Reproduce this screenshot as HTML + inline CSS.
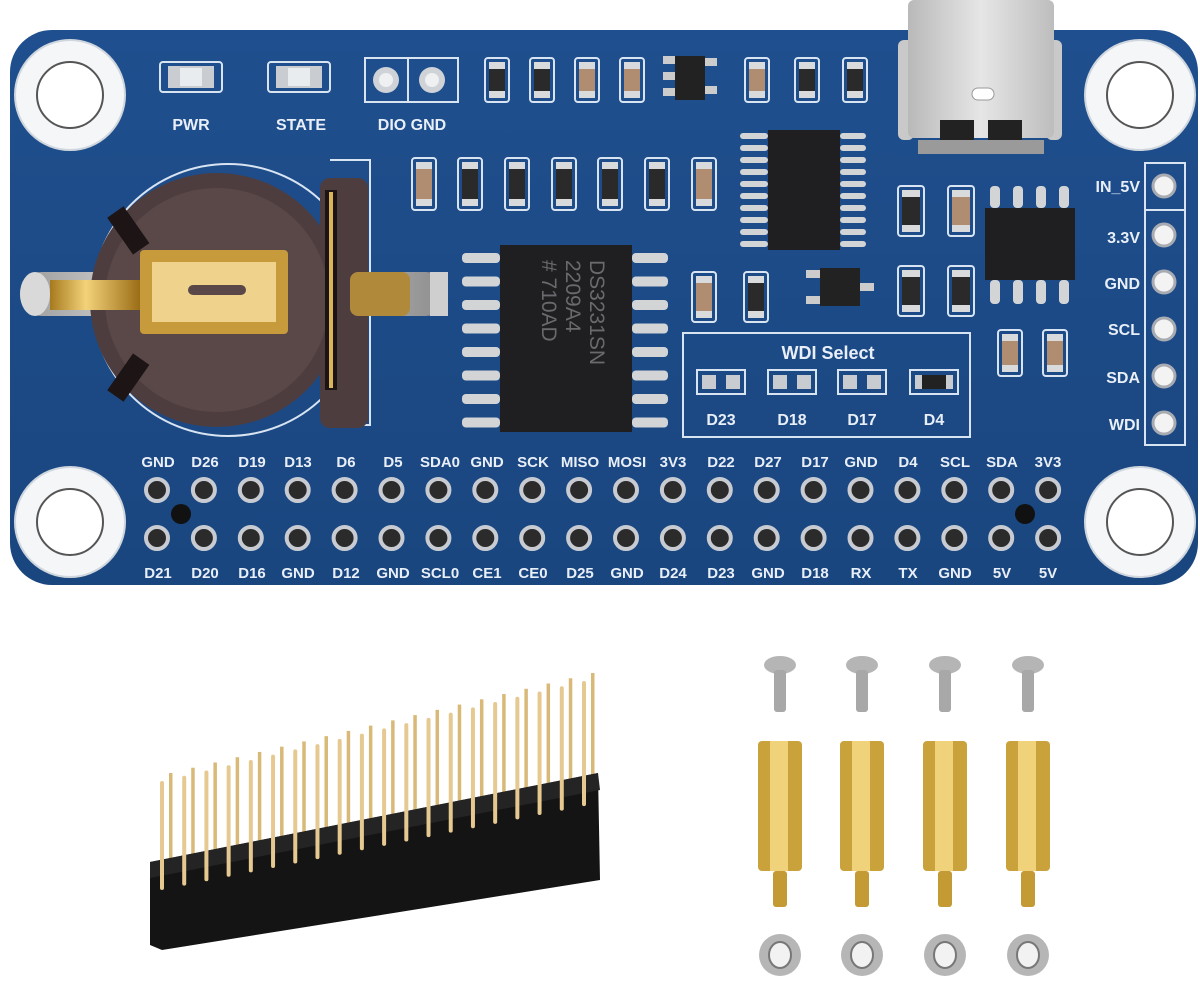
<!DOCTYPE html>
<html><head><meta charset="utf-8"><style>
html,body{margin:0;padding:0;background:#fff;}
svg{display:block;}
text{font-family:"Liberation Sans",sans-serif;font-weight:bold;fill:#e9eff8;}
</style></head><body>
<svg id="s" width="1200" height="985" viewBox="0 0 1200 985" xmlns="http://www.w3.org/2000/svg">
<defs>
<linearGradient id="brd" x1="0" y1="0" x2="0" y2="1"><stop offset="0" stop-color="#1f4f8e"/><stop offset="1" stop-color="#1a467f"/></linearGradient>
<linearGradient id="gold" x1="0" y1="0" x2="1" y2="0"><stop offset="0" stop-color="#a67a1e"/><stop offset="0.4" stop-color="#f3d27a"/><stop offset="1" stop-color="#9a6d16"/></linearGradient>
<linearGradient id="silver" x1="0" y1="0" x2="1" y2="0"><stop offset="0" stop-color="#9a9a9a"/><stop offset="0.4" stop-color="#eeeeee"/><stop offset="1" stop-color="#8c8c8c"/></linearGradient>
<linearGradient id="usb" x1="0" y1="0" x2="1" y2="0"><stop offset="0" stop-color="#b9b9b9"/><stop offset="0.5" stop-color="#e6e6e6"/><stop offset="1" stop-color="#bdbdbd"/></linearGradient>
</defs>
<rect x="10" y="30" width="1188" height="555" rx="42" fill="url(#brd)"/>
<g fill="#f4f6f8" stroke="#cfd6de" stroke-width="2">
<circle cx="70" cy="95" r="55"/><circle cx="1140" cy="95" r="55"/><circle cx="70" cy="522" r="55"/><circle cx="1140" cy="522" r="55"/>
</g>
<g fill="#ffffff" stroke="#555" stroke-width="2">
<circle cx="70" cy="95" r="33"/><circle cx="1140" cy="95" r="33"/><circle cx="70" cy="522" r="33"/><circle cx="1140" cy="522" r="33"/>
</g>
<g fill="none" stroke="#d8e4f2" stroke-width="2">
<rect x="160" y="62" width="62" height="30" rx="3"/><rect x="268" y="62" width="62" height="30" rx="3"/>
<rect x="365" y="58" width="93" height="44"/><line x1="408" y1="58" x2="408" y2="102"/>
<rect x="683" y="333" width="287" height="104"/>
<rect x="1145" y="163" width="40" height="282"/><line x1="1145" y1="210" x2="1185" y2="210"/>
<path d="M330 160 L370 160 L370 425 L330 425"/>
</g>
<g fill="#c9cdd2"><rect x="168" y="66" width="46" height="22"/><rect x="276" y="66" width="46" height="22"/></g>
<g fill="#e8ecef"><rect x="180" y="68" width="22" height="18"/><rect x="288" y="68" width="22" height="18"/></g>
<circle cx="386" cy="80" r="13" fill="#cfd3d8"/><circle cx="386" cy="80" r="7" fill="#eef0f2"/>
<circle cx="432" cy="80" r="13" fill="#cfd3d8"/><circle cx="432" cy="80" r="7" fill="#eef0f2"/>
<text x="191" y="130" font-size="16" text-anchor="middle">PWR</text>
<text x="301" y="130" font-size="16" text-anchor="middle">STATE</text>
<text x="412" y="130" font-size="16" text-anchor="middle">DIO GND</text>
<g id="comps"></g>
<rect x="898" y="40" width="16" height="100" rx="6" fill="#c9c9c9"/>
<rect x="1046" y="40" width="16" height="100" rx="6" fill="#c9c9c9"/>
<rect x="908" y="0" width="146" height="138" rx="6" fill="url(#usb)"/>
<rect x="940" y="120" width="34" height="20" fill="#222"/><rect x="988" y="120" width="34" height="20" fill="#222"/>
<rect x="918" y="140" width="126" height="14" fill="#9a9a9a"/>
<rect x="972" y="88" width="22" height="12" rx="6" fill="#fff" stroke="#999"/>
<circle cx="228" cy="300" r="136" fill="none" stroke="#d8e4f2" stroke-width="2"/>
<rect x="20" y="272" width="428" height="44" rx="22" fill="url(#silver)"/>
<rect x="430" y="272" width="18" height="44" fill="#cfcfcf"/>
<circle cx="217" cy="300" r="127" fill="#4e3d3e"/>
<rect x="320" y="178" width="48" height="250" rx="10" fill="#4e3d3e"/>
<circle cx="217" cy="300" r="112" fill="#5a4848"/>
<rect x="325" y="190" width="12" height="200" fill="#1c1414"/>
<rect x="329" y="192" width="4" height="196" fill="#d9b45a"/>
<rect x="350" y="272" width="60" height="44" rx="8" fill="#b08a3a"/>
<rect x="20" y="272" width="30" height="44" rx="22" fill="#d9d9d9"/>
<rect x="50" y="280" width="90" height="30" fill="url(#gold)"/>
<rect x="140" y="250" width="148" height="84" rx="4" fill="#c79b3c"/>
<rect x="152" y="262" width="124" height="60" fill="#efd38d"/>
<rect x="188" y="285" width="58" height="10" rx="5" fill="#5a4848"/>
<rect x="118" y="208" width="20" height="45" fill="#1d1515" transform="rotate(-35 128 230)"/>
<rect x="118" y="355" width="20" height="45" fill="#1d1515" transform="rotate(35 128 378)"/>
<rect x="500" y="245" width="132" height="187" fill="#1f1f21"/>
<text font-size="21" style="fill:#6a6a6e;font-weight:normal" transform="translate(590 260) rotate(90)">DS3231SN</text>
<text font-size="21" style="fill:#6a6a6e;font-weight:normal" transform="translate(566 260) rotate(90)">2209A4</text>
<text font-size="21" style="fill:#6a6a6e;font-weight:normal" transform="translate(542 260) rotate(90)"># 710AD</text>
<rect x="768" y="130" width="72" height="120" fill="#1f1f21"/>
<rect x="985" y="208" width="90" height="72" fill="#1f1f21"/>
<text x="828" y="359" font-size="18" text-anchor="middle">WDI Select</text>
<g fill="none" stroke="#d8e4f2" stroke-width="2">
<rect x="697" y="370" width="48" height="24"/><rect x="768" y="370" width="48" height="24"/><rect x="838" y="370" width="48" height="24"/><rect x="910" y="370" width="48" height="24"/>
</g>
<g fill="#c8ccd0">
<rect x="702" y="375" width="14" height="14"/><rect x="726" y="375" width="14" height="14"/>
<rect x="773" y="375" width="14" height="14"/><rect x="797" y="375" width="14" height="14"/>
<rect x="843" y="375" width="14" height="14"/><rect x="867" y="375" width="14" height="14"/>
<rect x="915" y="375" width="38" height="14"/>
</g>
<rect x="922" y="375" width="24" height="14" fill="#222"/>
<g font-size="16" text-anchor="middle">
<text x="721" y="425">D23</text><text x="792" y="425">D18</text><text x="862" y="425">D17</text><text x="934" y="425">D4</text>
</g>
<g font-size="16" text-anchor="end">
<text x="1140" y="192">IN_5V</text><text x="1140" y="243">3.3V</text><text x="1140" y="289">GND</text>
<text x="1140" y="335">SCL</text><text x="1140" y="383">SDA</text><text x="1140" y="430">WDI</text>
</g>
<g fill="#f3f3f3" stroke="#a8acb2" stroke-width="3">
<circle cx="1164" cy="186" r="11"/><circle cx="1164" cy="235" r="11"/><circle cx="1164" cy="282" r="11"/>
<circle cx="1164" cy="329" r="11"/><circle cx="1164" cy="376" r="11"/><circle cx="1164" cy="423" r="11"/>
</g>
<g font-size="15" text-anchor="middle">
<text x="158" y="467">GND</text><text x="205" y="467">D26</text><text x="252" y="467">D19</text><text x="298" y="467">D13</text><text x="346" y="467">D6</text><text x="393" y="467">D5</text><text x="440" y="467">SDA0</text><text x="487" y="467">GND</text><text x="533" y="467">SCK</text><text x="580" y="467">MISO</text><text x="627" y="467">MOSI</text><text x="673" y="467">3V3</text><text x="721" y="467">D22</text><text x="768" y="467">D27</text><text x="815" y="467">D17</text><text x="861" y="467">GND</text><text x="908" y="467">D4</text><text x="955" y="467">SCL</text><text x="1002" y="467">SDA</text><text x="1048" y="467">3V3</text>
<text x="158" y="578">D21</text><text x="205" y="578">D20</text><text x="252" y="578">D16</text><text x="298" y="578">GND</text><text x="346" y="578">D12</text><text x="393" y="578">GND</text><text x="440" y="578">SCL0</text><text x="487" y="578">CE1</text><text x="533" y="578">CE0</text><text x="580" y="578">D25</text><text x="627" y="578">GND</text><text x="673" y="578">D24</text><text x="721" y="578">D23</text><text x="768" y="578">GND</text><text x="815" y="578">D18</text><text x="861" y="578">RX</text><text x="908" y="578">TX</text><text x="955" y="578">GND</text><text x="1002" y="578">5V</text><text x="1048" y="578">5V</text>
</g>
<circle cx="181" cy="514" r="10" fill="#111"/><circle cx="1025" cy="514" r="10" fill="#111"/>
<g id="holes"></g>
<g id="pinsback"></g>
<polygon points="150,862 598,773 600,880 162,950 150,945" fill="#141414"/>
<polygon points="150,862 598,773 600,790 150,878" fill="#242424"/>
<g id="pinsfront"></g>
<g id="hw"></g>
</svg>
<script>
(function(){
var NS="http://www.w3.org/2000/svg";
function el(p,t,a){var e=document.createElementNS(NS,t);for(var k in a)e.setAttribute(k,a[k]);document.getElementById(p).appendChild(e);return e;}
for(var i=0;i<20;i++){var hx=157+i*46.9;[490,538].forEach(function(y){el("holes","circle",{cx:hx,cy:y,r:11,fill:"#2b2b2b",stroke:"#c8ccd2","stroke-width":4});});}
var C=[[485,58,24,44,"r"],[530,58,24,44,"r"],[575,58,24,44,"c"],[620,58,24,44,"c"],[745,58,24,44,"c"],[795,58,24,44,"r"],[843,58,24,44,"r"],
[412,158,24,52,"c"],[458,158,24,52,"r"],[505,158,24,52,"r"],[552,158,24,52,"r"],[598,158,24,52,"r"],[645,158,24,52,"w"],[692,158,24,52,"c"],
[692,272,24,50,"c"],[744,272,24,50,"r"],[898,186,26,50,"r"],[948,186,26,50,"c"],[898,266,26,50,"r"],[948,266,26,50,"r"],[998,330,24,46,"c"],[1043,330,24,46,"c"]];
C.forEach(function(c){el("comps","rect",{x:c[0],y:c[1],width:c[2],height:c[3],rx:3,fill:"none",stroke:"#d8e4f2","stroke-width":2});
var f=c[4]=="c"?"#b08c70":"#2a2a2a";
el("comps","rect",{x:c[0]+4,y:c[1]+4,width:c[2]-8,height:c[3]-8,fill:"#d8dadc"});
el("comps","rect",{x:c[0]+4,y:c[1]+11,width:c[2]-8,height:c[3]-22,fill:f});});
el("comps","rect",{x:675,y:56,width:30,height:44,fill:"#222"});
[60,76,92].forEach(function(y){el("comps","rect",{x:663,y:y-4,width:12,height:8,fill:"#ccc"});});
[62,90].forEach(function(y){el("comps","rect",{x:705,y:y-4,width:12,height:8,fill:"#ccc"});});
el("comps","rect",{x:820,y:268,width:40,height:38,fill:"#222"});
[274,300].forEach(function(y){el("comps","rect",{x:806,y:y-4,width:14,height:8,fill:"#ccc"});});
el("comps","rect",{x:860,y:283,width:14,height:8,fill:"#ccc"});
for(var i=0;i<8;i++){var y=258+i*23.5;el("comps","rect",{x:462,y:y-5,width:38,height:10,rx:4,fill:"#d2d4d6"});el("comps","rect",{x:632,y:y-5,width:36,height:10,rx:4,fill:"#d2d4d6"});}
for(var i=0;i<10;i++){var y=136+i*12;el("comps","rect",{x:740,y:y-3,width:28,height:6,rx:3,fill:"#d2d4d6"});el("comps","rect",{x:840,y:y-3,width:26,height:6,rx:3,fill:"#d2d4d6"});}
for(var i=0;i<4;i++){var x=995+i*23;el("comps","rect",{x:x-5,y:186,width:10,height:22,rx:4,fill:"#d2d4d6"});el("comps","rect",{x:x-5,y:280,width:10,height:24,rx:4,fill:"#d2d4d6"});}
for(var i=0;i<20;i++){var t=i/19;var px=160+t*422;var ptop=781-t*100;var base=862-(px-150)/448*89;
el("pinsback","rect",{x:px+9,y:ptop-8,width:3.5,height:base-ptop+12,fill:"#d9b978"});
el("pinsfront","rect",{x:px,y:ptop,width:4,height:base-ptop+30,rx:2,fill:"#e6c990"});}
[780,862,945,1028].forEach(function(x){
el("hw","ellipse",{cx:x,cy:665,rx:16,ry:9,fill:"#b5b5b5"});
el("hw","rect",{x:x-6,y:670,width:12,height:42,rx:3,fill:"#a8a8a8"});
el("hw","rect",{x:x-22,y:741,width:44,height:130,rx:4,fill:"#c9a23c"});
el("hw","rect",{x:x-10,y:741,width:18,height:130,fill:"#efd27a"});
el("hw","rect",{x:x-7,y:871,width:14,height:36,rx:3,fill:"#c49a34"});
el("hw","ellipse",{cx:x,cy:955,rx:21,ry:21,fill:"#b6b6b6"});
el("hw","ellipse",{cx:x,cy:955,rx:11,ry:13,fill:"#f2f2f2",stroke:"#777","stroke-width":2});
});
})();
</script>
</body></html>
